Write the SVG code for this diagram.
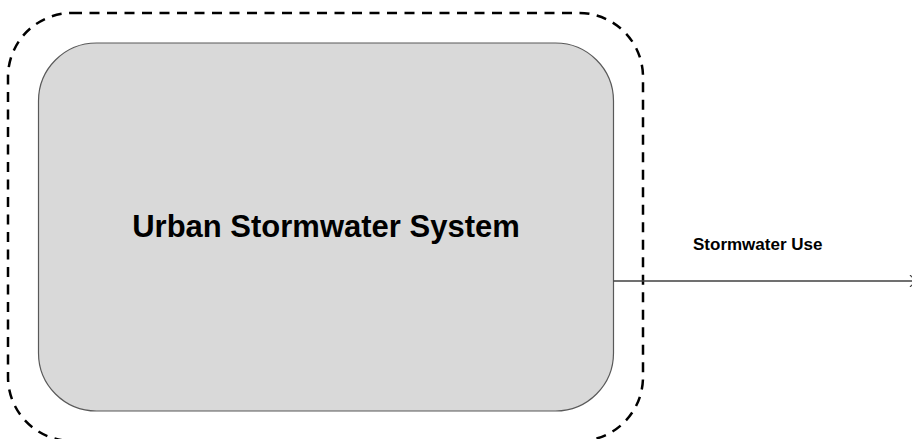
<svg xmlns="http://www.w3.org/2000/svg" width="912" height="439" viewBox="0 0 912 439">
  <style>
    .boundary { fill: none; stroke: #000000; stroke-width: 2.5; stroke-dasharray: 10 7.5; }
    .system { fill: #d9d9d9; stroke: #595959; stroke-width: 1.2; }
    .title { font-family: "Liberation Sans", Arial, sans-serif; font-weight: bold; fill: #000000; }
    .flow { fill: none; stroke: #404040; stroke-width: 1.5; }
  </style>
  <defs>
    <marker id="arrow" markerWidth="10" markerHeight="12" refX="8" refY="6" orient="auto" markerUnits="userSpaceOnUse">
      <path d="M2,0 L8,6 L2,12" fill="none" stroke="#404040" stroke-width="1.2"/>
    </marker>
  </defs>
  <g id="boundary">
    <rect class="boundary" x="8" y="13" width="635" height="428" rx="64" ry="64"/>
  </g>
  <g id="urban-stormwater-system">
    <rect class="system" x="38.5" y="43" width="575" height="368" rx="58" ry="58"/>
    <text class="title" x="326" y="237" font-size="31" text-anchor="middle">Urban Stormwater System</text>
  </g>
  <g id="connectors">
    <line class="flow" x1="613.5" y1="281" x2="916" y2="281" marker-end="url(#arrow)"/>
    <text class="title" x="693" y="250" font-size="17">Stormwater Use</text>
  </g>
</svg>
